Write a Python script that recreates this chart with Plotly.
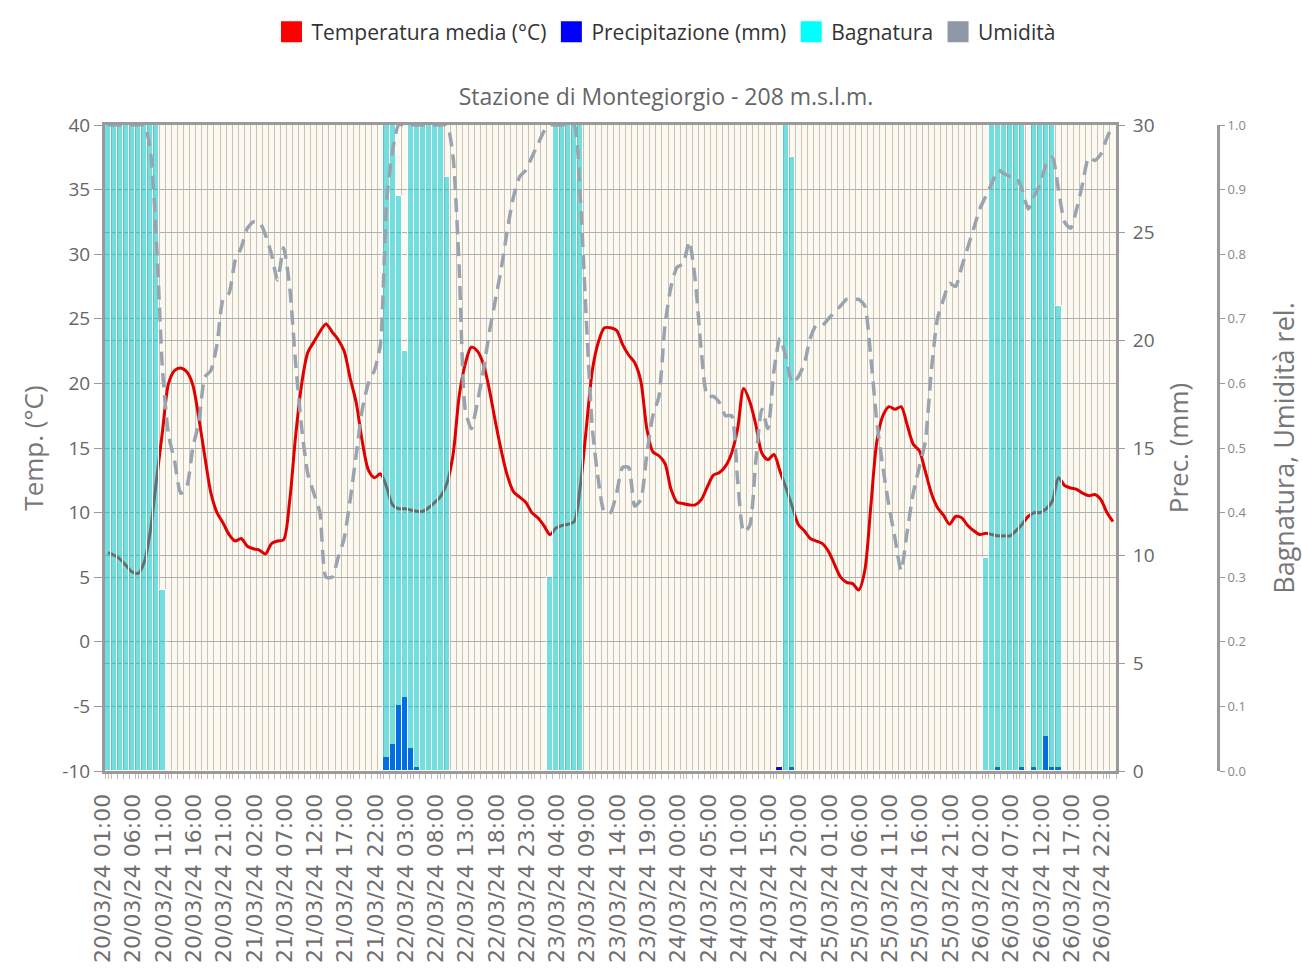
import pandas as pd
import plotly.graph_objects as go

# Hourly readings from 20/03/24 01:00 to 26/03/24 23:00 (167 hours)
temperatura = [
    6.9, 6.7, 6.4, 5.9, 5.4, 5.3, 6.2, 8.6, 12.5, 16.3,
    20.0, 21.0, 21.2, 20.9, 19.9, 17.3, 14.3, 11.5, 10.0, 9.2,
    8.3, 7.8, 8.0, 7.4, 7.2, 7.1, 6.8, 7.6, 7.8, 7.9,
    10.9, 16.0, 20.0, 22.4, 23.2, 24.0, 24.6, 24.0, 23.4, 22.5,
    20.4, 18.5, 15.5, 13.3, 12.7, 13.0, 12.0, 10.6, 10.3, 10.3,
    10.2, 10.1, 10.1, 10.4, 10.8, 11.3, 12.3, 14.5, 19.0, 21.5,
    22.8, 22.5, 21.5, 19.5, 17.0, 14.7, 12.8, 11.6, 11.2, 10.8,
    10.0, 9.6, 9.0, 8.3, 8.8, 9.0, 9.1, 9.3, 12.0, 16.5,
    21.0, 23.2, 24.3, 24.3, 24.1, 23.0, 22.2, 21.6, 20.2, 16.5,
    14.7, 14.4, 13.8, 11.8, 10.8, 10.7, 10.6, 10.6, 11.0, 12.0,
    12.9, 13.1, 13.6, 14.6, 16.5, 19.6, 18.6, 16.8, 14.6, 14.1,
    14.5, 13.2, 11.9, 10.5, 9.1, 8.6, 8.0, 7.8, 7.6, 7.0,
    6.0, 5.0, 4.6, 4.5, 4.0, 5.5, 10.5, 15.5, 17.5, 18.2,
    18.0, 18.2, 16.8, 15.3, 14.8, 13.2, 11.5, 10.4, 9.8, 9.1,
    9.7, 9.6, 9.0, 8.6, 8.3, 8.4, 8.3, 8.2, 8.2, 8.2,
    8.6, 9.1, 9.7, 10.0, 10.0, 10.3, 10.9, 12.7, 12.1, 11.9,
    11.8, 11.5, 11.3, 11.4, 11.0, 10.0, 9.3,
]

precipitazione = [
    0, 0, 0, 0, 0, 0, 0, 0, 0, 0,
    0, 0, 0, 0, 0, 0, 0, 0, 0, 0,
    0, 0, 0, 0, 0, 0, 0, 0, 0, 0,
    0, 0, 0, 0, 0, 0, 0, 0, 0, 0,
    0, 0, 0, 0, 0, 0, 0.6, 1.2, 3.0, 3.4,
    1.0, 0.15, 0, 0, 0, 0, 0, 0, 0, 0,
    0, 0, 0, 0, 0, 0, 0, 0, 0, 0,
    0, 0, 0, 0, 0, 0, 0, 0, 0, 0,
    0, 0, 0, 0, 0, 0, 0, 0, 0, 0,
    0, 0, 0, 0, 0, 0, 0, 0, 0, 0,
    0, 0, 0, 0, 0, 0, 0, 0, 0, 0,
    0, 0.12, 0, 0.12, 0, 0, 0, 0, 0, 0,
    0, 0, 0, 0, 0, 0, 0, 0, 0, 0,
    0, 0, 0, 0, 0, 0, 0, 0, 0, 0,
    0, 0, 0, 0, 0, 0, 0, 0.15, 0, 0,
    0, 0.15, 0, 0.15, 0, 1.6, 0.15, 0.15, 0, 0,
    0, 0, 0, 0, 0, 0, 0,
]

bagnatura = [
    1, 1, 1, 1, 1, 1, 1, 1, 1, 0.28,
    0, 0, 0, 0, 0, 0, 0, 0, 0, 0,
    0, 0, 0, 0, 0, 0, 0, 0, 0, 0,
    0, 0, 0, 0, 0, 0, 0, 0, 0, 0,
    0, 0, 0, 0, 0, 0, 1, 1, 0.89, 0.65,
    1, 1, 1, 1, 1, 1, 0.92, 0, 0, 0,
    0, 0, 0, 0, 0, 0, 0, 0, 0, 0,
    0, 0, 0, 0.3, 1, 1, 1, 1, 1, 0,
    0, 0, 0, 0, 0, 0, 0, 0, 0, 0,
    0, 0, 0, 0, 0, 0, 0, 0, 0, 0,
    0, 0, 0, 0, 0, 0, 0, 0, 0, 0,
    0, 0, 1, 0.95, 0, 0, 0, 0, 0, 0,
    0, 0, 0, 0, 0, 0, 0, 0, 0, 0,
    0, 0, 0, 0, 0, 0, 0, 0, 0, 0,
    0, 0, 0, 0, 0, 0.33, 1, 1, 1, 1,
    1, 1, 0, 1, 1, 1, 1, 0.72, 0, 0,
    0, 0, 0, 0, 0, 0, 0,
]

umidita = [
    1.0, 1.0, 1.0, 1.0, 1.0, 1.0, 1.0, 0.96, 0.82, 0.62,
    0.52, 0.48, 0.43, 0.44, 0.50, 0.54, 0.61, 0.62, 0.66, 0.73,
    0.74, 0.79, 0.81, 0.84, 0.85, 0.85, 0.83, 0.80, 0.76, 0.81,
    0.75, 0.63, 0.53, 0.46, 0.43, 0.40, 0.30, 0.30, 0.33, 0.36,
    0.42, 0.49, 0.56, 0.60, 0.62, 0.66, 0.88, 0.96, 1.0, 1.0,
    1.0, 1.0, 1.0, 1.0, 1.0, 1.0, 1.0, 0.95, 0.78, 0.56,
    0.53, 0.57, 0.62, 0.68, 0.73, 0.78, 0.84, 0.89, 0.92, 0.93,
    0.95, 0.97, 0.99, 1.0, 1.0, 1.0, 1.0, 1.0, 0.89, 0.70,
    0.53, 0.45, 0.40, 0.40, 0.43, 0.47, 0.47, 0.41, 0.42, 0.49,
    0.55, 0.58, 0.69, 0.75, 0.78, 0.785, 0.82, 0.76, 0.65, 0.58,
    0.58, 0.57, 0.55, 0.55, 0.45, 0.37, 0.38, 0.48, 0.56, 0.53,
    0.62, 0.67, 0.64, 0.60, 0.61, 0.63, 0.67, 0.69, 0.69, 0.70,
    0.71, 0.72, 0.73, 0.73, 0.73, 0.72, 0.64, 0.54, 0.47, 0.41,
    0.36, 0.31, 0.37, 0.43, 0.47, 0.51, 0.62, 0.70, 0.73, 0.755,
    0.75, 0.78, 0.81, 0.84, 0.87, 0.89, 0.91, 0.93, 0.925, 0.92,
    0.92, 0.90, 0.87, 0.89, 0.91, 0.94, 0.95, 0.90, 0.85, 0.84,
    0.87, 0.91, 0.95, 0.945, 0.955, 0.98, 1.0,
]

tick_labels = [
    "20/03/24 01:00", "20/03/24 06:00", "20/03/24 11:00", "20/03/24 16:00", "20/03/24 21:00",
    "21/03/24 02:00", "21/03/24 07:00", "21/03/24 12:00", "21/03/24 17:00", "21/03/24 22:00",
    "22/03/24 03:00", "22/03/24 08:00", "22/03/24 13:00", "22/03/24 18:00", "22/03/24 23:00",
    "23/03/24 04:00", "23/03/24 09:00", "23/03/24 14:00", "23/03/24 19:00",
    "24/03/24 00:00", "24/03/24 05:00", "24/03/24 10:00", "24/03/24 15:00", "24/03/24 20:00",
    "25/03/24 01:00", "25/03/24 06:00", "25/03/24 11:00", "25/03/24 16:00", "25/03/24 21:00",
    "26/03/24 02:00", "26/03/24 07:00", "26/03/24 12:00", "26/03/24 17:00", "26/03/24 22:00",
]

temp_ticks = [-10, -5, 0, 5, 10, 15, 20, 25, 30, 35, 40]
temp_tick_text = ["-10", "-5", "0", "5", "10", "15", "20", "25", "30", "35", "40"]

legend_items = [
    ("Temperatura media (°C)", "#ff0000"),
    ("Precipitazione (mm)", "#0000ff"),
    ("Bagnatura", "#00ffff"),
    ("Umidità", "#8f99a6"),
]

ore = pd.date_range("2024-03-20 01:00", periods=len(temperatura), freq="h")
mezz_ora = pd.Timedelta(minutes=30)

W, H = 1302, 977
x0_px, x1_px = 105, 1116
y_top_px, y_bot_px = 125, 771

fig = go.Figure()

fig.add_trace(go.Scatter(
    x=ore, y=temperatura, yaxis="y", mode="lines",
    line=dict(color="#e00000", width=3, shape="spline", smoothing=0.8), showlegend=False,
))
fig.add_trace(go.Bar(
    x=ore, y=precipitazione, yaxis="y2",
    marker=dict(color="#0000ff", line=dict(color="#0a1f70", width=1)),
    showlegend=False,
))
fig.add_trace(go.Bar(
    x=ore, y=bagnatura, yaxis="y3",
    marker=dict(color="rgba(0,200,205,0.55)", line=dict(color="white", width=1)),
    showlegend=False,
))
fig.add_trace(go.Scatter(
    x=ore, y=umidita, yaxis="y3", mode="lines",
    line=dict(color="#9aa4ae", width=3.5, dash="14px,8px", shape="spline", smoothing=0.6),
    showlegend=False,
))

for name, col in legend_items:
    fig.add_trace(go.Scatter(
        x=[None], y=[None], mode="markers", name=name,
        marker=dict(symbol="square", size=16, color=col, line=dict(color=col, width=5)),
    ))

grid_v = "#c9c2b8"
grid_h = "#b0b0b0"
frame = "#9a9a9a"
tick_col = "#666666"
title_col = "#777777"

fig.update_layout(
    width=W, height=H,
    margin=dict(l=0, r=0, t=0, b=0),
    paper_bgcolor="white",
    plot_bgcolor="#fcf9f1",
    font=dict(family="Open Sans", color=tick_col),
    barmode="overlay", bargap=0,
    title=dict(
        text="Stazione di Montegiorgio - 208 m.s.l.m.",
        x=666 / W, y=1 - 97 / H, xanchor="center", yanchor="middle",
        font=dict(size=23, color="#666666"),
    ),
    legend=dict(
        orientation="h", x=666 / W, y=1 - 32 / H, xanchor="center", yanchor="middle",
        font=dict(size=21, color="#333333"), itemsizing="trace",
        bgcolor="rgba(0,0,0,0)",
    ),
    xaxis=dict(
        type="date",
        domain=[x0_px / W, x1_px / W],
        range=[ore[0] - mezz_ora, ore[-1] + mezz_ora],
        tickmode="array", tickvals=list(ore[::5]), ticktext=tick_labels,
        tickangle=-90,
        tickfont=dict(family="DejaVu Sans", size=22, color="#707070"),
        ticks="outside", ticklen=5, tickcolor="#c8b8b8",
        ticklabelstandoff=6, ticklabelshift=-5,
        showgrid=False, zeroline=False,
        minor=dict(
            tick0=ore[0] - mezz_ora, dtick=3600000,
            ticks="outside", ticklen=5, tickcolor="#c8b8b8",
            showgrid=True, gridcolor=grid_v, gridwidth=1,
        ),
        showline=True, linecolor=frame, linewidth=3, mirror=True,
        automargin=False, fixedrange=True,
    ),
    yaxis=dict(
        domain=[1 - y_bot_px / H, 1 - y_top_px / H],
        range=[-10, 40], tickmode="array", tickvals=temp_ticks, ticktext=temp_tick_text,
        showgrid=True, gridcolor=grid_h, gridwidth=1, zeroline=False,
        showline=True, linecolor=frame, linewidth=3, mirror=True,
        ticks="outside", ticklen=8, tickcolor=frame,
        tickfont=dict(size=19, color=tick_col),
        title=dict(text="Temp. (°C)", font=dict(size=26, color=title_col), standoff=12),
        automargin=False,
    ),
    yaxis2=dict(
        overlaying="y", side="right", anchor="x",
        range=[0, 30], tickmode="linear", tick0=0, dtick=5,
        showgrid=True, gridcolor=grid_h, gridwidth=1, zeroline=False,
        ticks="outside", ticklen=8, tickcolor=frame,
        tickfont=dict(size=19, color=tick_col),
        ticklabelstandoff=4,
        title=dict(text="Prec. (mm)", font=dict(size=26, color=title_col), standoff=16),
        automargin=False,
    ),
    yaxis3=dict(
        overlaying="y", side="right", anchor="free", position=1218 / W,
        range=[0, 1], tickmode="linear", tick0=0, dtick=0.1, tickformat=".1f",
        showgrid=False, zeroline=False,
        showline=True, linecolor=frame, linewidth=3,
        ticks="outside", ticklen=5, tickcolor=frame,
        tickfont=dict(size=13, color="#888888"),
        title=dict(text="Bagnatura, Umidità rel.", font=dict(size=27, color=title_col), standoff=30),
        automargin=False,
    ),
)

fig.write_html(
    "out.html",
    config={"displayModeBar": False},
    post_script="document.body.style.margin='0';",
)
